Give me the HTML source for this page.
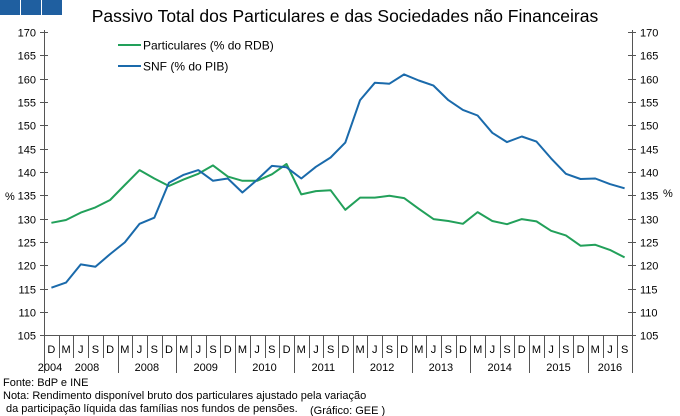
<!DOCTYPE html>
<html><head><meta charset="utf-8"><style>
html,body{margin:0;padding:0;background:#fff;}
svg{display:block;font-family:"Liberation Sans",Arial,sans-serif;}
</style></head><body>
<svg width="680" height="416" viewBox="0 0 680 416" xmlns="http://www.w3.org/2000/svg">
<rect x="0" y="0" width="20" height="15" fill="#1f5fa0"/>
<rect x="21" y="0" width="20" height="15" fill="#1f5fa0"/>
<rect x="42" y="0" width="20" height="15" fill="#1f5fa0"/>
<text x="345" y="22" font-size="17.5" text-anchor="middle" fill="#000">Passivo Total dos Particulares e das Sociedades não Financeiras</text>
<g id="axes" stroke="#555" stroke-width="1" fill="none">
<line x1="44.5" y1="30" x2="44.5" y2="373"/>
<line x1="632.5" y1="30" x2="632.5" y2="373"/>
<line x1="44" y1="335.5" x2="633" y2="335.5"/>
</g>
<g stroke-width="2" fill="none">
<line x1="118" y1="45" x2="141" y2="45" stroke="#22a05a"/>
<line x1="118" y1="66" x2="141" y2="66" stroke="#1a6aab"/>
</g>
<text x="143" y="49.5" font-size="12">Particulares (% do RDB)</text>
<text x="143" y="70.5" font-size="12">SNF  (% do PIB)</text>
<text x="5" y="200" font-size="11">%</text>
<text x="663" y="197" font-size="11">%</text>
<text x="3" y="386" font-size="11">Fonte: BdP e INE</text>
<text x="3" y="399" font-size="11">Nota: Rendimento disponível bruto dos particulares ajustado pela variação</text>
<text x="6" y="412" font-size="11">da participação líquida das famílias nos fundos de pensões.</text>
<text x="310" y="414" font-size="11">(Gráfico: GEE )</text>
<script>
var ns="http://www.w3.org/2000/svg";
function el(t,a,txt,p){var e=document.createElementNS(ns,t);for(var k in a)e.setAttribute(k,a[k]);if(txt!=null)e.textContent=txt;(p||document.querySelector('svg')).appendChild(e);return e;}
function Y(v){return 335.3-(v-105)*4.667;}
function X(i){return 44+14.7*(i+0.5);}
for(var v=105;v<=170;v+=5){var y=Math.round(Y(v))+0.5;
el('line',{x1:40,y1:y,x2:48,y2:y,stroke:'#555'});
el('line',{x1:628,y1:y,x2:636,y2:y,stroke:'#555'});
el('text',{x:36,y:y+4,'font-size':11,'text-anchor':'end'},v);
el('text',{x:640,y:y+4,'font-size':11},v);}
var lab=['D','M','J','S'];
for(var i=0;i<40;i++){var xl=Math.round(44+14.7*(i+1))+0.5;
el('line',{x1:xl,y1:336,x2:xl,y2:358,stroke:'#555'});
el('text',{x:X(i),y:353,'font-size':11,'text-anchor':'middle'},lab[i%4]);}
var yrs=[['2004',50],['2008',87]];var names=['2008','2009','2010','2011','2012','2013','2014','2015','2016'];
for(var k=0;k<9;k++){var s=5+4*k;var e=Math.min(s+4,40);yrs.push([names[k],44+14.7*(s+e)/2]);
var xl=Math.round(44+14.7*s)+0.5;el('line',{x1:xl,y1:358,x2:xl,y2:373,stroke:'#555'});}
yrs.forEach(function(a){el('text',{x:a[1],y:371,'font-size':11,'text-anchor':'middle'},a[0]);});
var g=[129.1,129.7,131.3,132.4,134.0,137.2,140.4,138.6,137.0,138.4,139.6,141.4,139.0,138.1,138.1,139.5,141.7,135.2,135.9,136.1,131.9,134.5,134.5,134.9,134.4,132.1,129.9,129.5,128.9,131.4,129.5,128.8,129.9,129.4,127.4,126.4,124.2,124.4,123.3,121.7];
var b=[115.2,116.3,120.2,119.7,122.4,124.9,128.9,130.2,137.7,139.4,140.4,138.1,138.6,135.6,138.3,141.3,141.0,138.6,141.1,143.1,146.3,155.4,159.1,158.9,160.9,159.6,158.5,155.4,153.3,152.1,148.4,146.4,147.6,146.5,142.9,139.6,138.5,138.6,137.4,136.5];
function pts(a){return a.map(function(v,i){return X(i).toFixed(1)+','+Y(v).toFixed(1);}).join(' ');}
el('polyline',{points:pts(g),fill:'none',stroke:'#22a05a','stroke-width':2,'stroke-linejoin':'round'});
el('polyline',{points:pts(b),fill:'none',stroke:'#1a6aab','stroke-width':2,'stroke-linejoin':'round'});
</script>
</svg>
</body></html>
